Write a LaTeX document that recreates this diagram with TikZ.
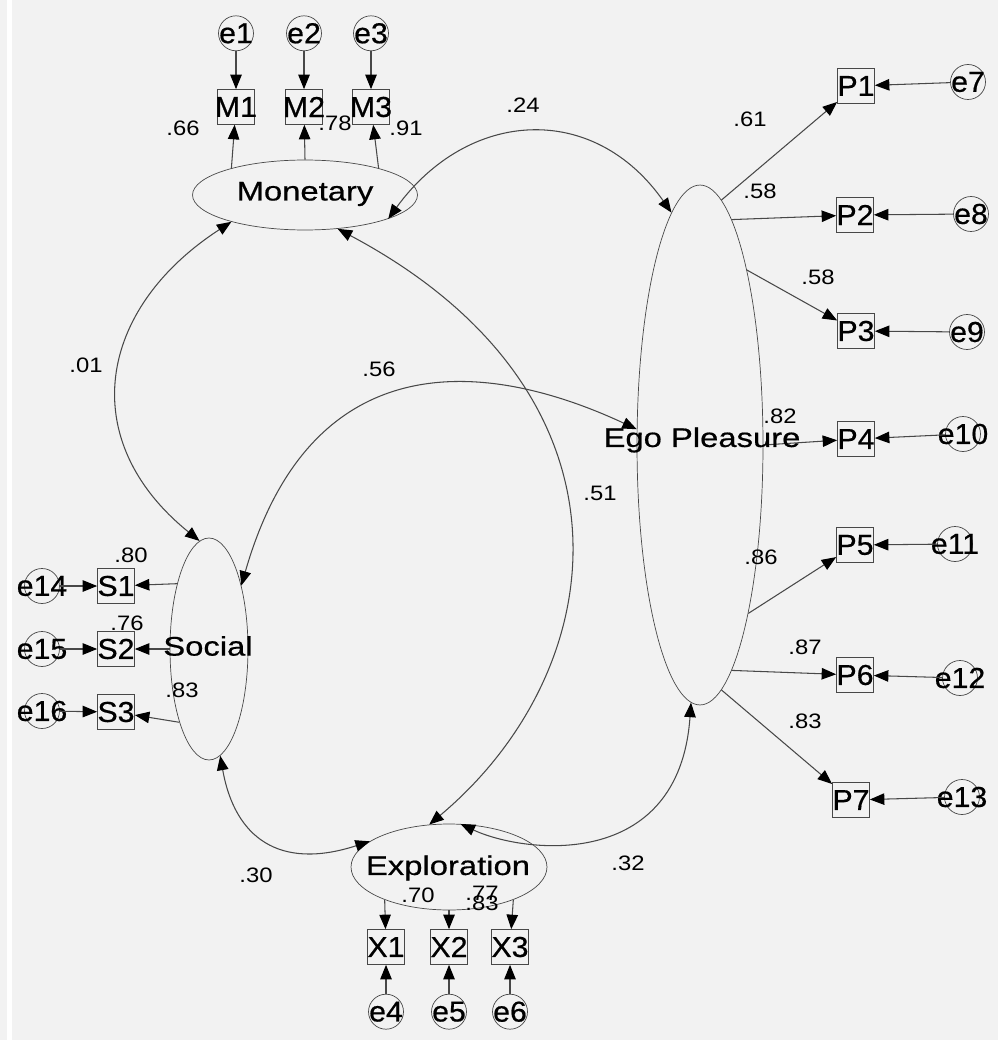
\documentclass[tikz,border=0pt]{standalone}
\usepackage{fontspec}
\setmainfont{Liberation Sans}
\newfontfamily\latfont[FakeStretch=1.22,FakeBold=0.6]{Liberation Sans}
\newfontfamily\varfont[FakeStretch=1.05,FakeBold=0.6]{Liberation Sans}
\newfontfamily\numfont[FakeStretch=1.14]{Liberation Sans}
\usepackage{tikz}
\usetikzlibrary{calc}
\usetikzlibrary{arrows.meta}
\usetikzlibrary{shapes.geometric}
\usetikzlibrary{positioning}
\definecolor{bgray}{HTML}{F2F2F2}
\definecolor{lgray}{HTML}{484848}
\newcommand{\zw}[1]{\makebox[0pt]{#1}}
\tikzset{obs/.style={rectangle,draw=lgray,minimum width=0.74cm,minimum height=0.7cm,inner sep=0pt,font=\varfont\fontsize{16.4}{18}\selectfont}}
\tikzset{err/.style={circle,draw=lgray,minimum size=0.7cm,inner sep=0pt,font=\varfont\fontsize{16.4}{18}\selectfont}}
\tikzset{lat/.style={ellipse,draw=lgray,inner sep=0pt}}
\tikzset{latname/.style={inner sep=0pt,font=\latfont\fontsize{15.3}{17}\selectfont}}
\tikzset{num/.style={inner sep=0pt,font=\numfont\fontsize{11.9}{13}\selectfont}}
\tikzset{load/.style={draw=lgray,line width=0.6pt,-{Triangle[length=0.29cm,width=0.23cm,color=black]}}}
\tikzset{cov/.style={draw=lgray,line width=0.6pt,{Triangle[length=0.29cm,width=0.23cm,color=black]}-{Triangle[length=0.29cm,width=0.23cm,color=black]}}}

\begin{document}
\begin{tikzpicture}[x=0.02cm,y=-0.02cm]
    \fill[bgray] (0,0) rectangle (998,1040);
    \fill[white] (7,0) rectangle (12,1040);
    \useasboundingbox (0,0) rectangle (998,1040);
    % latent
    \node[lat, minimum width=4.5cm, minimum height=1.4cm] (mon) at (305,195) {};
    \node[lat, minimum width=2.52cm, minimum height=10.4cm] (ego) at (700,445) {};
    \node[lat, minimum width=1.56cm, minimum height=4.44cm] (soc) at (209,649) {};
    \node[lat, minimum width=3.92cm, minimum height=1.72cm] (expl) at (449,867) {};
    % indicators
    \node[obs] (M1) at (236,107) {\zw{M1}};
    \node[obs] (M2) at (304,107) {\zw{M2}};
    \node[obs] (M3) at (371,107) {\zw{M3}};
    \node[err, above=0.76cm of M1] (e1) {\zw{e1}};
    \node[err, above=0.76cm of M2] (e2) {\zw{e2}};
    \node[err, above=0.76cm of M3] (e3) {\zw{e3}};
    \node[obs] (X1) at (386,947) {\zw{X1}};
    \node[obs] (X2) at (449,947) {\zw{X2}};
    \node[obs] (X3) at (510,947) {\zw{X3}};
    \node[err, below=0.58cm of X1] (e4) {\zw{e4}};
    \node[err, below=0.58cm of X2] (e5) {\zw{e5}};
    \node[err, below=0.58cm of X3] (e6) {\zw{e6}};
    \node[obs] (S1) at (116,586) {\zw{S1}};
    \node[obs] (S2) at (116,649) {\zw{S2}};
    \node[obs] (S3) at (116,712) {\zw{S3}};
    \node[err] (e14) at (42,586) {\zw{e14}};
    \node[err] (e15) at (42,649) {\zw{e15}};
    \node[err] (e16) at (42,711) {\zw{e16}};
    \node[obs] (P1) at (856,86) {\zw{P1}};
    \node[obs] (P2) at (855,215) {\zw{P2}};
    \node[obs] (P3) at (856,331) {\zw{P3}};
    \node[obs] (P4) at (856,439) {\zw{P4}};
    \node[obs] (P5) at (855,545) {\zw{P5}};
    \node[obs] (P6) at (855,675) {\zw{P6}};
    \node[obs] (P7) at (851,800) {\zw{P7}};
    \node[err] (e7) at (968,82) {\zw{e7}};
    \node[err] (e8) at (971,214) {\zw{e8}};
    \node[err] (e9) at (967,332) {\zw{e9}};
    \node[err] (e10) at (963,434) {\zw{e10}};
    \node[err] (e11) at (955,544) {\zw{e11}};
    \node[err] (e12) at (960,678) {\zw{e12}};
    \node[err] (e13) at (962,797) {\zw{e13}};

    \draw[load] (e1) -- (M1);
    \draw[load] (e2) -- (M2);
    \draw[load] (e3) -- (M3);
    \draw[load] (mon.160) -- (M1);
    \draw[load] (mon.north) -- (M2);
    \draw[load] (mon.20) -- (M3);
    \draw[load] (e4) -- (X1);
    \draw[load] (e5) -- (X2);
    \draw[load] (e6) -- (X3);
    \draw[load] (expl.207) -- (X1);
    \draw[load] (expl.south) -- (X2);
    \draw[load] (expl.333) -- (X3);
    \draw[load] (e14) -- (S1);
    \draw[load] (e15) -- (S2);
    \draw[load] (e16) -- (S3);
    \draw[load] (soc.116) -- (S1);
    \draw[load] (soc.west) -- (S2);
    \draw[load] (soc.-112) -- (S3);
    \draw[load] (ego.85) -- (P1);
    \draw[load] (ego.82) -- (P2);
    \draw[load] (ego.75) -- (P3);
    \draw[load] (ego.east) -- (P4);
    \draw[load] (ego.-74) -- (P5);
    \draw[load] (ego.-82) -- (P6);
    \draw[load] (ego.-85) -- (P7);
    \draw[load] (e7) -- (P1);
    \draw[load] (e8) -- (P2);
    \draw[load] (e9) -- (P3);
    \draw[load] (e10) -- (P4);
    \draw[load] (e11) -- (P5);
    \draw[load] (e12) -- (P6);
    \draw[load] (e13) -- (P7);
    % correlations
    \draw[cov] (mon.-16) .. controls +(54:2.72cm) and +(125:2.72cm) .. (ego.97);
    \draw[cov] (mon.200) .. controls +(213:3.2cm) and +(141:3.2cm) .. (soc.95);
    \draw[cov] (mon.-46) .. controls +(-28:7.06cm) and +(40:4.82cm) .. (expl.115);
    \draw[cov] (soc.63) .. controls +(74:5.04cm) and +(155:3.36cm) .. (ego.166);
    \draw[cov] (soc.-84) .. controls +(-80:1.67cm) and +(198:1.9cm) .. (expl.162);
    \draw[cov] (expl.75) .. controls +(-25:1.4cm) and +(-94:3.4cm) .. (ego.-92);

    \node[latname] (monT) at (305,194) {Monetary};
    \node[latname] (egoT) at (702,440) {Ego Pleasure};
    \node[latname] (socT) at (208,646) {Social};
    \node[latname] (explT) at (448,868) {Exploration};

    \node[num] (lM1) at (183,128) {.66};
    \node[num] (lM2) at (335,123) {.78};
    \node[num] (lM3) at (406,128) {.91};
    \node[num] (lP1) at (750,119) {.61};
    \node[num] (lP2) at (760,191) {.58};
    \node[num] (lP3) at (818,277) {.58};
    \node[num] (lP4) at (780,416) {.82};
    \node[num] (lP5) at (761,557) {.86};
    \node[num] (lP6) at (805,647) {.87};
    \node[num] (lP7) at (805,721) {.83};
    \node[num] (lS1) at (131,555) {.80};
    \node[num] (lS2) at (127,623) {.76};
    \node[num] (lS3) at (182,690) {.83};
    \node[num] (lX1) at (418,895) {.70};
    \node[num] (lX3) at (482,893) {.77};
    \node[num] (lX2) at (482,903) {.83};
    \node[num] (cMP) at (523,105) {.24};
    \node[num] (cMS) at (86,365) {.01};
    \node[num] (cMX) at (600,493) {.51};
    \node[num] (cSP) at (379,369) {.56};
    \node[num] (cSX) at (256,875) {.30};
    \node[num] (cXP) at (628,863) {.32};
\end{tikzpicture}
\end{document}
